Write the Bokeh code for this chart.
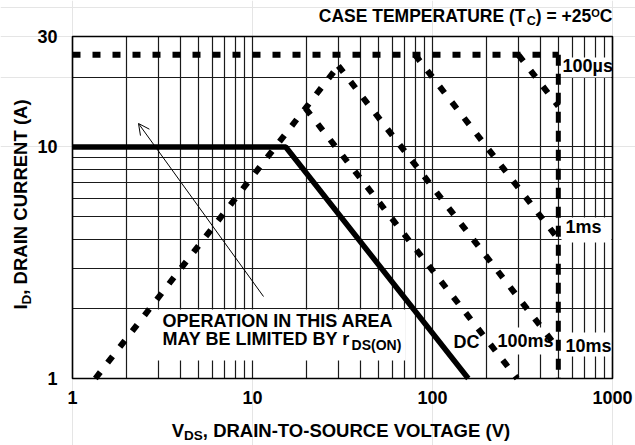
import math
from bokeh.plotting import figure
from bokeh.models import Range1d, FixedTicker, Label, Arrow, OpenHead, Grid
from bokeh.embed import file_html
from bokeh.resources import INLINE

# ---------------- data ----------------
x_tick_labels = [1, 10, 100, 1000]
y_tick_labels = [1, 10, 30]

dc_v = [1, 15.3, 158]
dc_i = [10, 10, 1]
rds_v = [1.34, 30]          # r_DS(on) limit
rds_i = [1, 22.4]
us100_v = [300, 500]
us100_i = [25, 15]
ms1_v = [80, 500]
ms1_i = [25, 4]
ms10_v = [30, 500]
ms10_i = [22.4, 1.34]
ms100_v = [19.7, 295]
ms100_i = [14.7, 1]
idm_v = [1, 500]            # pulsed current limit
idm_i = [25, 25]
bv_v = [500, 500]           # voltage limit
bv_i = [25, 1]

# ---------------- layout (page pixels) ----------------
PW, PH = 635, 445
FL, FR, FT, FB = 72, 612, 36, 378   # plot box
XMIN, XMAX, YMIN, YMAX = 1, 1000, 1, 30
xs = (FR - FL) / (math.log10(XMAX) - math.log10(XMIN))
ys = (FB - FT) / (math.log10(YMAX) - math.log10(YMIN))
FONT = "Liberation Sans"
CAPMID = 0.355   # cap-height centre above the baseline, in em


def dx(X):
    return 10 ** ((X - FL) / xs + math.log10(XMIN))


def dy(Y):
    return 10 ** ((FB - Y) / ys + math.log10(YMIN))


AW = {' ': 278, '!': 333, '(': 333, ')': 333, '+': 584, ',': 278, '-': 333, '.': 278, '=': 584,
      'A': 722, 'B': 722, 'C': 722, 'D': 722, 'E': 667, 'F': 611, 'G': 778, 'H': 722, 'I': 278,
      'J': 556, 'K': 722, 'L': 611, 'M': 833, 'N': 722, 'O': 778, 'P': 667, 'Q': 778, 'R': 722,
      'S': 667, 'T': 611, 'U': 722, 'V': 667, 'W': 944, 'X': 667, 'Y': 667, 'Z': 611,
      'm': 889, 's': 556, 'r': 389, 'µ': 611, 'o': 611}


def tw(s, size):
    return sum(AW.get(c, 556) for c in s) * size / 1000.0


# the frame covers the whole canvas so that every text can be drawn unclipped
p = figure(width=PW, height=PH, x_axis_type="log", y_axis_type="log",
           x_axis_location=None, y_axis_location=None,
           x_range=Range1d(dx(0), dx(PW)), y_range=Range1d(dy(PH), dy(0)),
           output_backend="svg", toolbar_location=None, min_border=0)
p.title.visible = False
p.background_fill_color = "white"
p.border_fill_color = "white"
p.outline_line_color = None

grid_x = [m * 10 ** d for d in range(0, 3) for m in range(1, 10)] + [1000]
grid_y = [m for m in range(2, 10)] + [10, 20]
gx = Grid(dimension=0, ticker=FixedTicker(ticks=grid_x), bounds=(XMIN, XMAX), cross_bounds=(YMIN, YMAX))
gy = Grid(dimension=1, ticker=FixedTicker(ticks=grid_y), bounds=(YMIN, YMAX), cross_bounds=(XMIN, XMAX))
for g in (gx, gy):
    g.grid_line_color = "#1a1a1a"
    g.grid_line_width = 1.2
    g.grid_line_alpha = 1.0
    p.add_layout(g)

# white backgrounds behind the texts (page pixel boxes)
boxes = [(155, 309, 405, 360), (560, 57, 611, 77), (561, 217, 611, 242),
         (494, 327, 556, 354), (562, 332, 611, 356)]
p.quad(left=[dx(b[0]) for b in boxes], right=[dx(b[2]) for b in boxes],
       top=[dy(b[1]) for b in boxes], bottom=[dy(b[3]) for b in boxes],
       fill_color="white", line_color=None)

dash = dict(line_color="black", line_width=6, line_dash="8 12", line_cap="butt")
for vv, ii in ((rds_v, rds_i), (idm_v, idm_i), (us100_v, us100_i), (ms1_v, ms1_i),
               (ms10_v, ms10_i), (ms100_v, ms100_i)):
    p.line(vv, ii, **dash)
p.line(bv_v, bv_i, line_color="black", line_width=5, line_dash="11 8", line_cap="butt")
p.line(dc_v, dc_i, line_color="black", line_width=5.5)

# plot box outline
p.quad(left=[XMIN], right=[XMAX], bottom=[YMIN], top=[YMAX], fill_color=None,
       line_color="black", line_width=1.5)

p.add_layout(Arrow(end=OpenHead(size=11, line_width=1, line_color="black"),
                   x_start=dx(263), y_start=dy(296), x_end=dx(138), y_end=dy(123),
                   line_width=1, line_color="black"))


def label(text, x, y, size, angle=0.0, align="left"):
    p.add_layout(Label(x=x, y=y, text=text, text_font=FONT, text_font_style="bold",
                       text_font_size=f"{size}px", text_color="black", text_align=align,
                       text_baseline="middle", angle=angle))


def htext(text, X, Y, size, align="left"):
    """X, Y: page pixels of the text start and its baseline"""
    label(text, dx(X), dy(Y - CAPMID * size), size, align=align)


def vtext(text, X, Y, size):
    """rotated text reading upwards; X = baseline column, Y = start"""
    label(text, dx(X - CAPMID * size), dy(Y), size, angle=math.pi / 2)


def run(pieces, X, Y, vertical=False):
    pos = 0.0
    for text, size, off in pieces:
        if vertical:
            vtext(text, X + off, Y - pos, size)
        else:
            htext(text, X + pos, Y + off, size)
        pos += tw(text, size)


# tick labels
for t in x_tick_labels:
    label(str(t), t, dy(403 - CAPMID * 18), 18, align="center")
for t in y_tick_labels:
    label(str(t), dx(57), t, 18, align="right")

# annotations inside the box
htext("OPERATION IN THIS AREA", 162, 327, 18)
htext("MAY BE LIMITED BY r", 162, 345, 18)
htext("DS(ON)", 162 + tw("MAY BE LIMITED BY r", 18), 349, 14)
htext("DC", 453, 348, 18)
htext("100ms", 497, 347, 18)
htext("10ms", 565, 352, 18)
htext("1ms", 565, 233, 18)
htext("100µs", 562, 72, 18)

# note and axis titles
title = [("CASE TEMPERATURE (T", 17.5, 0), ("C", 12.5, 3), (") = +25", 17.5, 0),
         ("O", 11, -5), ("C", 17.5, 0)]
tot = sum(tw(t, s) for t, s, _ in title)
run(title, FR - tot, 21.7)

yl = [("I", 18.5, 0), ("D", 13.5, 4), (", DRAIN CURRENT (A)", 18.5, 0)]
tot = sum(tw(t, s) for t, s, _ in yl)
run(yl, 27, 204 + tot / 2, vertical=True)

xl = [("V", 18.5, 0), ("DS", 13.5, 3), (", DRAIN-TO-SOURCE VOLTAGE (V)", 18.5, 0)]
tot = sum(tw(t, s) for t, s, _ in xl)
run(xl, (FL + FR) / 2 - tot / 2, 437)

open("out.html", "w").write(file_html(p, INLINE))
